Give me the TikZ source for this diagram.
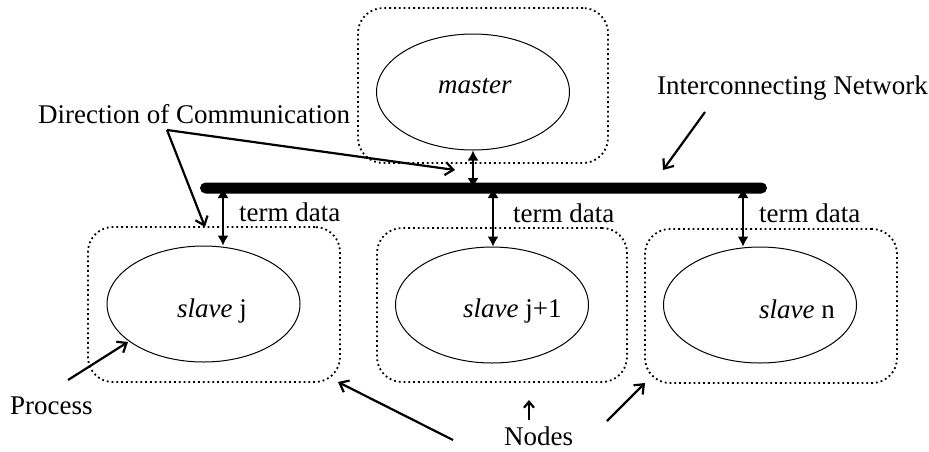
\documentclass[tikz,border=0pt]{standalone}
\usepackage{fontspec}
\setmainfont{Liberation Serif}
\usetikzlibrary{arrows.meta,shapes.geometric}
\begin{document}
\begin{tikzpicture}[x=1pt,y=-1pt,
  every node/.style={font=\fontsize{27}{30}\selectfont},
  proc/.style={draw,ellipse,line width=1pt,minimum width=193pt,minimum height=116pt,inner sep=0pt},
  nodebox/.style={draw,rectangle,rounded corners=25pt,line width=1.8pt,dash pattern=on 1.8pt off 3pt,inner sep=0pt},
  lbl/.style={anchor=base west,inner sep=0pt},
  dbl/.style={line width=1.5pt,{Latex[length=10pt,width=11pt]}-{Latex[length=10pt,width=11pt]}},
  pointer/.style={line width=2.2pt,-{Straight Barb[length=8pt,width=13pt]}},
  busbar/.style={fill=black,rectangle,rounded corners=5.5pt,inner sep=0pt,minimum width=567pt,minimum height=11pt},
]
\useasboundingbox (0,0) rectangle (929,451);

% node boxes (dotted)
\node[nodebox,minimum width=250pt,minimum height=155pt] (mb) at (483,85.5) {};
\node[nodebox,minimum width=252pt,minimum height=155pt] (sjb) at (214,304.5) {};
\node[nodebox,minimum width=250pt,minimum height=154pt] (sj1b) at (502,305) {};
\node[nodebox,minimum width=252pt,minimum height=154pt] (snb) at (771,306) {};

% processes
\node[proc] (m) at (473,92) {};
\node[proc] (sj) at (203.5,304) {};
\node[proc] (sj1) at (492,305) {};
\node[proc] (sn) at (760,305) {};

\node[lbl] (mt) at (438,93) {\textit{master}};
\node[lbl] (sjt) at (177,317) {\textit{slave} j};
\node[lbl] (sj1t) at (463,317) {\textit{slave} j+1};
\node[lbl] (snt) at (759,318) {\textit{slave} n};

% bus taps
\coordinate (tj) at (223,0);
\coordinate (tj1) at (493,0);
\coordinate (tn) at (743,0);
\coordinate (busc) at (483.5,188);

\draw[dbl] (m.south) -- (m.south |- busc);
\draw[dbl] (busc -| tj) -- (sj.north -| tj);
\draw[dbl] (busc -| tj1) -- (sj1.north -| tj1);
\draw[dbl] (busc -| tn) -- (sn.north -| tn);

% interconnecting network bus
\node[busbar] (bus) at (busc) {};

% term data labels
\node[lbl] (td1) at (239,221) {term data};
\node[lbl] (td2) at (513,222) {term data};
\node[lbl] (td3) at (759,222) {term data};

% annotations
\node[lbl] (dir) at (38,123) {Direction of Communication};
\node[lbl] (net) at (657,94) {Interconnecting Network};
\node[lbl] (proclbl) at (10,414) {Process};
\node[lbl] (nodeslbl) at (504,445) {Nodes};

\coordinate (dc) at (167,130);
\coordinate (dm) at (455,170);
\coordinate (ds) at (205,227);
\draw[pointer] (dc) -- (dm);
\draw[pointer] (dc) -- (ds);

\coordinate (ns) at (705,112);
\coordinate (ne) at (663,170);
\draw[pointer] (ns) -- (ne);

\coordinate (ps) at (68,380);
\coordinate (pe) at (128,342);
\draw[pointer] (ps) -- (pe);

\coordinate (n1s) at (453,440);
\coordinate (n1e) at (338,382);
\coordinate (n2s) at (529,420);
\coordinate (n2e) at (529,400);
\coordinate (n3s) at (607,421);
\coordinate (n3e) at (645,383);
\draw[pointer] (n1s) -- (n1e);
\draw[line width=2.2pt,-{Straight Barb[length=6pt,width=10pt]}] (n2s) -- (n2e);
\draw[pointer] (n3s) -- (n3e);
\end{tikzpicture}
\end{document}
